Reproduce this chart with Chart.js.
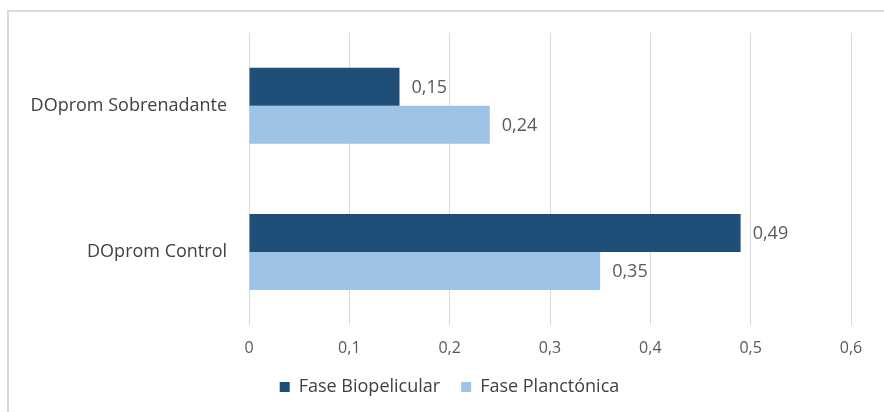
<!DOCTYPE html>
<html>
<head>
<meta charset="utf-8">
<script src="https://cdn.jsdelivr.net/npm/chart.js@4.4.1/dist/chart.umd.min.js"></script>
<style>
  html, body { margin: 0; padding: 0; background: #ffffff; }
  #wrap { width: 884px; height: 412px; position: relative; }
</style>
</head>
<body>
<div id="wrap"><canvas id="chart" width="884" height="412"></canvas></div>
<script>
// Categories (top to bottom) and series values
const categories = ['DOprom Sobrenadante', 'DOprom Control'];
const seriesNames = ['Fase Biopelicular', 'Fase Planctónica'];
const biopelicular = [0.15, 0.49];
const planctonica = [0.24, 0.35];
const axisTicks = [0, 0.1, 0.2, 0.3, 0.4, 0.5, 0.6];

const FONT = "'Open Sans', 'Noto Sans', sans-serif";
const commaNum = v => (v === 0 ? '0' : String(+v.toFixed(2)).replace('.', ','));

// Light frame around the chart object
const framePlugin = {
  id: 'frame',
  beforeDraw(chart) {
    const ctx = chart.ctx;
    ctx.save();
    ctx.fillStyle = '#ffffff';
    ctx.fillRect(0, 0, chart.width, chart.height);
    ctx.strokeStyle = '#d9d9d9';
    ctx.lineWidth = 2;
    ctx.beginPath();
    ctx.moveTo(8, chart.height);
    ctx.lineTo(8, 11);
    ctx.lineTo(chart.width, 11);
    ctx.stroke();
    ctx.restore();
  }
};

// Nudge the legend so it sits under the middle of the frame
const legendOffset = {
  id: 'legendOffset',
  afterLayout(chart) {
    const lg = chart.legend;
    if (lg) { lg.left += 17; lg.right += 17; }
  }
};

// Value labels at the end of each bar
const valueLabels = {
  id: 'valueLabels',
  afterDatasetsDraw(chart) {
    const ctx = chart.ctx;
    ctx.save();
    ctx.font = '18px ' + FONT;
    ctx.fillStyle = '#595959';
    ctx.textAlign = 'left';
    ctx.textBaseline = 'middle';
    chart.data.datasets.forEach((ds, i) => {
      chart.getDatasetMeta(i).data.forEach((bar, j) => {
        ctx.fillText(commaNum(ds.data[j]), bar.x + 12, bar.y + 1);
      });
    });
    ctx.restore();
  }
};

new Chart(document.getElementById('chart'), {
  type: 'bar',
  data: {
    labels: categories,
    datasets: [
      { label: seriesNames[0], data: biopelicular, backgroundColor: '#1f4e79' },
      { label: seriesNames[1], data: planctonica, backgroundColor: '#9dc3e6' }
    ]
  },
  options: {
    indexAxis: 'y',
    responsive: false,
    animation: false,
    devicePixelRatio: 1,
    layout: { padding: { top: 31, right: 33, bottom: 6, left: 14 } },
    datasets: { bar: { categoryPercentage: 0.52, barPercentage: 1.0 } },
    scales: {
      x: {
        min: 0,
        max: 0.6,
        afterBuildTicks(scale) { scale.ticks = axisTicks.map(v => ({ value: v })); },
        afterFit(scale) { scale.height = 32; },
        grid: { color: '#d9d9d9', lineWidth: 1, drawTicks: false },
        border: { display: false },
        ticks: {
          padding: 14,
          color: '#595959',
          font: { family: FONT, size: 16 },
          callback: v => commaNum(v)
        }
      },
      y: {
        afterFit(scale) { scale.width = 235; },
        grid: { display: false, drawTicks: false },
        border: { display: false },
        ticks: {
          padding: 22,
          color: '#404040',
          font: { family: FONT, size: 18 }
        }
      }
    },
    plugins: {
      legend: {
        position: 'bottom',
        labels: {
          boxWidth: 10,
          boxHeight: 10,
          padding: 21,
          color: '#404040',
          font: { family: FONT, size: 18 }
        }
      },
      tooltip: { enabled: false }
    }
  },
  plugins: [framePlugin, legendOffset, valueLabels]
});
</script>
</body>
</html>
